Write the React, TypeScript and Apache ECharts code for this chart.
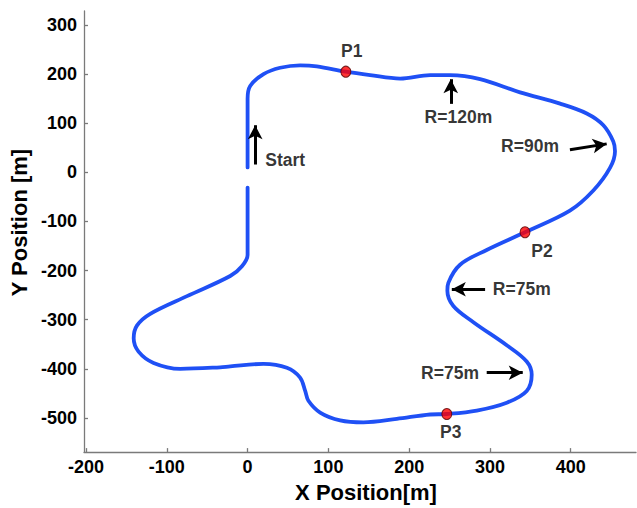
import React, { useEffect, useRef } from "react";
import * as echarts from "echarts";

// Track centre line (m), traced from start (0,10) going north, clockwise back to (0,-31)
const trackX = [
  0, 0, 3.2, 19.7, 40.3, 65, 85.7, 121.6, 151.7, 188.8, 226, 250.7, 287.8, 337.3, 386.8,
  419.8, 440.4, 452.7, 454.8, 448.6, 428, 399, 343.4, 296, 263, 248.5, 247.3, 254.7, 279.5,
  320.8, 345.5, 351.7, 345.5, 320.8, 283.7, 246.6, 226, 184.7, 143.4, 114.6, 89.8, 75.3,
  71.3, 65, 48.6, 19.7, -21.5, -34, -83.4, -116.4, -135, -141, -137, -120.5, -75, -21.5,
  -7, 0, 0,
];
const trackY = [
  10, 150, 176, 200, 213, 218, 216, 205, 198, 191, 198, 198, 190, 163, 140,
  120, 96, 63, 43, 9, -37, -78, -122, -158, -188, -225, -241, -272, -305,
  -352, -385, -412, -445, -469, -485, -492, -493, -502, -509, -505, -489, -465,
  -445, -418, -398, -390, -395, -397, -400, -388, -365, -338, -312, -288, -252, -211,
  -191, -168, -31,
];

// Marked points
const pointNames = ["P1", "P2", "P3"];
const pointX = [121.6, 343.4, 246.6];
const pointY = [205, -122, -492];

// Annotation texts (centre positions in m)
const noteTexts = ["Start", "R=120m", "R=90m", "R=75m", "R=75m"];
const noteX = [46.5, 261, 349.6, 339.4, 250.6];
const noteY = [25.3, 113, 53, -238, -408];

// Annotation arrows (tail -> head, in m)
const arrowFromX = [9.4, 251.5, 399, 294, 296];
const arrowFromY = [16, 139.5, 46, -238, -408];
const arrowToX = [9.4, 251.5, 444.5, 252.8, 340.6];
const arrowToY = [96, 189.7, 58, -238, -408];

// Axis ticks
const xTicks = [-200, -100, 0, 100, 200, 300, 400];
const yTicks = [-500, -400, -300, -200, -100, 0, 100, 200, 300];

const FONT = "'Liberation Sans', Arial, Helvetica, sans-serif";
const AXIS_COLOR = "#7a7a7a";

export default function App() {
  const ref = useRef<HTMLDivElement>(null);

  useEffect(() => {
    document.body.style.margin = "0";
    if (!ref.current) return;
    const chart = echarts.init(ref.current, undefined, { renderer: "svg" });

    const axisCommon = (ticks: number[]) => ({
      type: "value" as const,
      splitLine: { show: false },
      axisLine: { show: true, onZero: false, lineStyle: { color: AXIS_COLOR, width: 1.3 } },
      axisTick: {
        show: true,
        inside: true,
        length: 4,
        customValues: ticks,
        lineStyle: { color: AXIS_COLOR, width: 1.3 },
      },
      axisLabel: {
        customValues: ticks,
        color: "#000",
        fontWeight: "bold" as const,
        fontSize: 18,
        fontFamily: FONT,
      },
      nameLocation: "middle" as const,
      nameTextStyle: { color: "#000", fontWeight: "bold" as const, fontSize: 22, fontFamily: FONT },
    });

    const xBase = axisCommon(xTicks);
    const yBase = axisCommon(yTicks);

    chart.setOption({
      animation: false,
      backgroundColor: "#fff",
      grid: { left: 84, right: 1, top: 11, bottom: 49, containLabel: false },
      xAxis: {
        ...xBase,
        min: -202.5,
        max: 480.8,
        name: "X Position[m]",
        nameGap: 26,
        axisLabel: { ...xBase.axisLabel, margin: 6 },
        nameTextStyle: { ...xBase.nameTextStyle, padding: [0, 0, 0, 12] },
      },
      yAxis: {
        ...yBase,
        min: -569.6,
        max: 328.6,
        name: "Y Position [m]",
        nameGap: 48,
        axisLabel: { ...yBase.axisLabel, margin: 7 },
        nameTextStyle: { ...yBase.nameTextStyle, padding: [0, 0, 0, 18] },
      },
      series: [
        {
          type: "line",
          data: trackX.map((x, i) => [x, trackY[i]]),
          smooth: 0.35,
          showSymbol: false,
          symbol: "none",
          lineStyle: { color: "#1f50f5", width: 3.8, cap: "round", join: "round" },
          silent: true,
          z: 2,
        },
        {
          type: "scatter",
          data: noteTexts.map((t, i) => ({ name: t, value: [noteX[i], noteY[i]] })),
          symbol: "circle",
          symbolSize: 1,
          itemStyle: { color: "rgba(0,0,0,0)" },
          label: {
            show: true,
            position: "inside",
            formatter: (p: any) => p.name,
            color: "#000",
            fontWeight: "bold",
            fontSize: 17.5,
            fontFamily: FONT,
          },
          silent: true,
          z: 3,
          markLine: {
            silent: true,
            animation: false,
            symbol: ["none", "arrow"],
            symbolSize: [11, 14],
            label: { show: false },
            lineStyle: { color: "#000", width: 3, type: "solid" },
            emphasis: { disabled: true },
            data: arrowFromX.map((fx, i) => [
              { coord: [fx, arrowFromY[i]] },
              { coord: [arrowToX[i], arrowToY[i]] },
            ]),
          },
        },
        {
          type: "scatter",
          data: pointNames.map((n, i) => ({
            name: n,
            value: [pointX[i], pointY[i]],
            label: {
              offset: i === 0 ? [6, -21] : i === 1 ? [17, 19] : [4, 18],
            },
          })),
          symbol: "circle",
          symbolSize: [10, 11],
          itemStyle: { color: "#ff0000", borderColor: "#5a0000", borderWidth: 1 },
          label: {
            show: true,
            position: "inside",
            formatter: (p: any) => p.name,
            color: "#000",
            fontWeight: "bold",
            fontSize: 17.5,
            fontFamily: FONT,
          },
          silent: true,
          z: 4,
        },
      ],
    });

    return () => chart.dispose();
  }, []);

  return <div ref={ref} style={{ width: 637, height: 508 }} />;
}
